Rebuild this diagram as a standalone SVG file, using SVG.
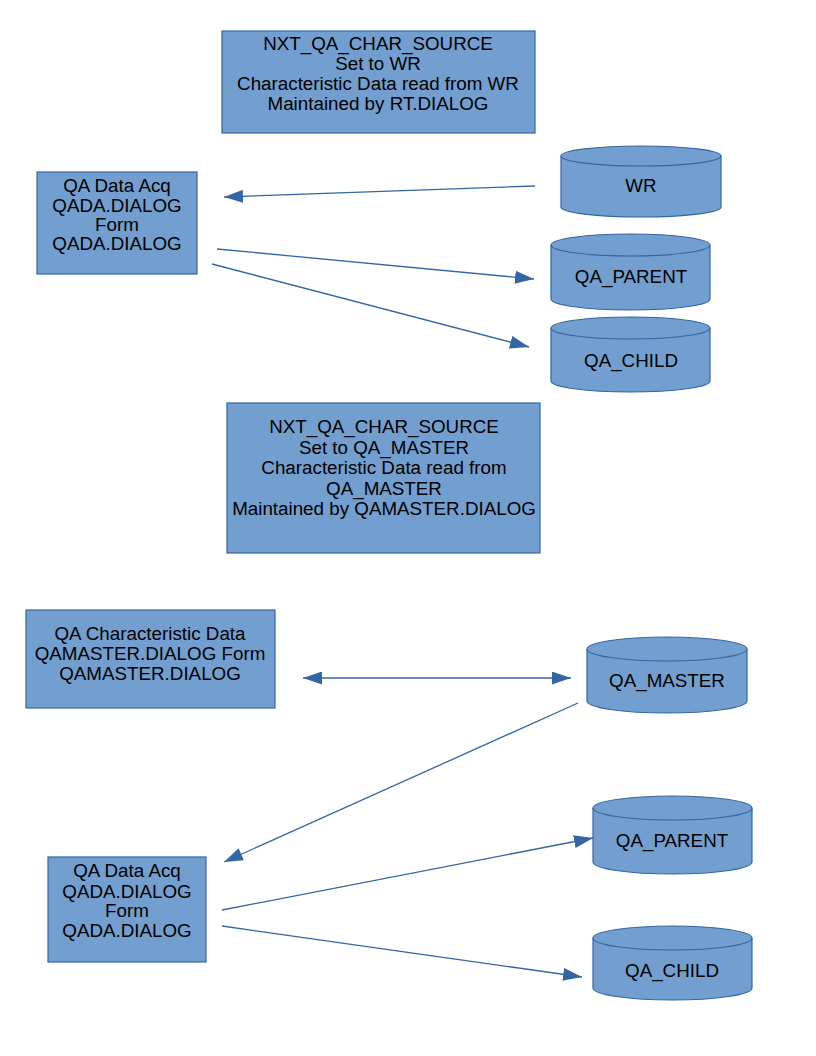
<svg xmlns="http://www.w3.org/2000/svg" width="816" height="1056" viewBox="0 0 816 1056">
<style>
.box{fill:#729fcf;stroke:#3465a4;stroke-width:1.2}
.cyl{fill:#729fcf;stroke:#3465a4;stroke-width:1.2}
.t{font-family:"Liberation Sans",Arial,sans-serif;font-size:18.8px;fill:#000;text-anchor:middle}
.c{stroke:#3465a4;stroke-width:1.3;fill:none}
</style>
<defs>
<marker id="ah" markerUnits="userSpaceOnUse" markerWidth="19" markerHeight="13" refX="19" refY="6.5" orient="auto-start-reverse" viewBox="0 0 19 13">
<path d="M0,0 L19,6.5 L0,13 Z" fill="#3465a4"/>
</marker>
</defs>
<rect width="816" height="1056" fill="#fff"/>
<g id="note-wr">
<rect class="box" x="222" y="31" width="313" height="102"/>
<text class="t" x="378" y="50">NXT_QA_CHAR_SOURCE</text>
<text class="t" x="378" y="70">Set to WR</text>
<text class="t" x="378" y="90">Characteristic Data read from WR</text>
<text class="t" x="378" y="110">Maintained by RT.DIALOG</text>
</g>
<g id="qada1">
<rect class="box" x="37" y="172" width="160" height="102"/>
<text class="t" x="117" y="192">QA Data Acq</text>
<text class="t" x="117" y="212">QADA.DIALOG</text>
<text class="t" x="117" y="231">Form</text>
<text class="t" x="117" y="250">QADA.DIALOG</text>
</g>
<g id="wr">
<path class="cyl" d="M561,156 A80,10 0 0 1 721,156 V207 A80,10 0 0 1 561,207 Z"/>
<path class="cyl" d="M561,156 A80,10 0 0 0 721,156" fill="none"/>
<text class="t" x="641" y="192">WR</text>
</g>
<g id="qa-parent1">
<path class="cyl" d="M551,245 A79.5,11 0 0 1 710,245 V299 A79.5,11 0 0 1 551,299 Z"/>
<path class="cyl" d="M551,245 A79.5,11 0 0 0 710,245" fill="none"/>
<text class="t" x="631" y="283">QA_PARENT</text>
</g>
<g id="qa-child1">
<path class="cyl" d="M551,328 A79.5,11 0 0 1 710,328 V381 A79.5,11 0 0 1 551,381 Z"/>
<path class="cyl" d="M551,328 A79.5,11 0 0 0 710,328" fill="none"/>
<text class="t" x="631" y="367">QA_CHILD</text>
</g>
<g id="note-master">
<rect class="box" x="227" y="403" width="313" height="150"/>
<text class="t" x="384" y="433">NXT_QA_CHAR_SOURCE</text>
<text class="t" x="384" y="454">Set to QA_MASTER</text>
<text class="t" x="384" y="474">Characteristic Data read from</text>
<text class="t" x="384" y="495">QA_MASTER</text>
<text class="t" x="384" y="515">Maintained by QAMASTER.DIALOG</text>
</g>
<g id="qamaster-form">
<rect class="box" x="26" y="610" width="249" height="98"/>
<text class="t" x="150" y="640">QA Characteristic Data</text>
<text class="t" x="150" y="660">QAMASTER.DIALOG Form</text>
<text class="t" x="150" y="680">QAMASTER.DIALOG</text>
</g>
<g id="qa-master">
<path class="cyl" d="M587,649 A80,12 0 0 1 747,649 V701 A80,12 0 0 1 587,701 Z"/>
<path class="cyl" d="M587,649 A80,12 0 0 0 747,649" fill="none"/>
<text class="t" x="667" y="687">QA_MASTER</text>
</g>
<g id="qa-parent2">
<path class="cyl" d="M593,808 A79.5,12 0 0 1 752,808 V862 A79.5,12 0 0 1 593,862 Z"/>
<path class="cyl" d="M593,808 A79.5,12 0 0 0 752,808" fill="none"/>
<text class="t" x="672" y="847">QA_PARENT</text>
</g>
<g id="qa-child2">
<path class="cyl" d="M593,938 A79.5,12 0 0 1 752,938 V988 A79.5,12 0 0 1 593,988 Z"/>
<path class="cyl" d="M593,938 A79.5,12 0 0 0 752,938" fill="none"/>
<text class="t" x="672" y="977">QA_CHILD</text>
</g>
<g id="qada2">
<rect class="box" x="48" y="857" width="158" height="105"/>
<text class="t" x="127" y="877">QA Data Acq</text>
<text class="t" x="127" y="898">QADA.DIALOG</text>
<text class="t" x="127" y="917">Form</text>
<text class="t" x="127" y="937">QADA.DIALOG</text>
</g>
<g id="connectors">
<line class="c" x1="535" y1="186" x2="224" y2="197" marker-end="url(#ah)"/>
<line class="c" x1="217" y1="249" x2="534" y2="279" marker-end="url(#ah)"/>
<line class="c" x1="212" y1="264" x2="529" y2="347" marker-end="url(#ah)"/>
<line class="c" x1="303" y1="678" x2="571" y2="678" marker-start="url(#ah)" marker-end="url(#ah)"/>
<line class="c" x1="578" y1="703" x2="224" y2="862" marker-end="url(#ah)"/>
<line class="c" x1="222" y1="910" x2="593" y2="838" marker-end="url(#ah)"/>
<line class="c" x1="222" y1="926" x2="582" y2="977" marker-end="url(#ah)"/>
</g>
</svg>
